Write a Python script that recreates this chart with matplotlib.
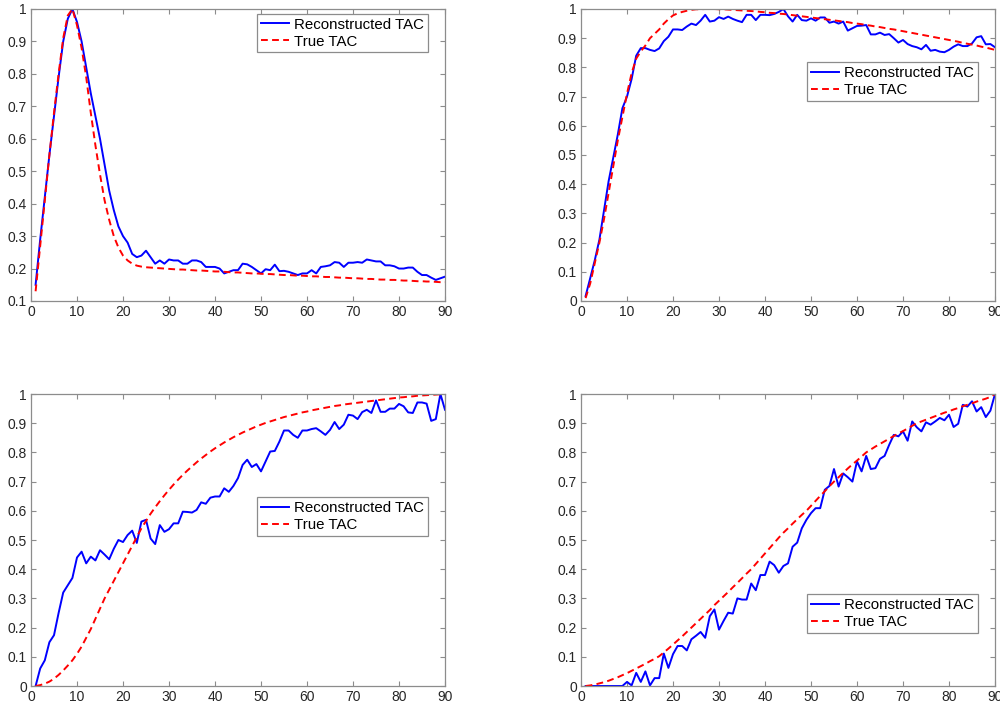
import matplotlib
matplotlib.use("Agg")
import matplotlib.pyplot as plt
from matplotlib.ticker import FormatStrFormatter, MultipleLocator

plt.rcParams['font.family'] = ['Liberation Sans', 'DejaVu Sans']

frames = list(range(1, 91))

tl_recon = [0.15, 0.29, 0.42, 0.55, 0.67, 0.79, 0.90, 0.97, 1.00, 0.96,
            0.90, 0.82, 0.74, 0.67, 0.60, 0.52, 0.44, 0.38, 0.33, 0.30,
            0.28, 0.245, 0.235, 0.24, 0.255, 0.235, 0.215, 0.225, 0.215, 0.228,
            0.225, 0.225, 0.215, 0.215, 0.225, 0.225, 0.22, 0.205, 0.205, 0.205,
            0.20, 0.185, 0.19, 0.195, 0.195, 0.215, 0.213, 0.205, 0.195, 0.185,
            0.198, 0.195, 0.212, 0.192, 0.193, 0.19, 0.185, 0.18, 0.185, 0.185,
            0.195, 0.185, 0.205, 0.207, 0.21, 0.22, 0.218, 0.205, 0.218, 0.218,
            0.22, 0.218, 0.228, 0.225, 0.222, 0.222, 0.21, 0.21, 0.207, 0.20,
            0.20, 0.203, 0.203, 0.19, 0.18, 0.18, 0.172, 0.165, 0.17, 0.175]
tl_true = [0.13, 0.27, 0.41, 0.55, 0.68, 0.80, 0.91, 0.98, 1.00, 0.95,
           0.88, 0.79, 0.68, 0.58, 0.49, 0.41, 0.35, 0.30, 0.265, 0.24,
           0.225, 0.215, 0.209, 0.206, 0.204, 0.203, 0.202, 0.201, 0.20, 0.199,
           0.198, 0.197, 0.197, 0.196, 0.195, 0.194, 0.194, 0.193, 0.192, 0.191,
           0.191, 0.19, 0.189, 0.188, 0.188, 0.187, 0.186, 0.185, 0.185, 0.184,
           0.183, 0.183, 0.182, 0.181, 0.18, 0.18, 0.179, 0.178, 0.178, 0.177,
           0.176, 0.176, 0.175, 0.174, 0.174, 0.173, 0.172, 0.172, 0.171, 0.17,
           0.17, 0.169, 0.168, 0.168, 0.167, 0.166, 0.166, 0.165, 0.165, 0.164,
           0.163, 0.163, 0.162, 0.161, 0.161, 0.16, 0.16, 0.159, 0.158, 0.158]

tr_recon = [0.017, 0.078, 0.14, 0.21, 0.31, 0.41, 0.49, 0.57, 0.66, 0.70,
            0.76, 0.84, 0.866, 0.866, 0.86, 0.856, 0.865, 0.89, 0.905, 0.93,
            0.93, 0.928, 0.94, 0.95, 0.945, 0.96, 0.98, 0.957, 0.96, 0.972,
            0.966, 0.974, 0.966, 0.96, 0.955, 0.98, 0.98, 0.962, 0.98, 0.98,
            0.979, 0.983, 0.99, 1.00, 0.975, 0.957, 0.98, 0.962, 0.96, 0.968,
            0.96, 0.971, 0.971, 0.953, 0.957, 0.95, 0.957, 0.926, 0.934, 0.942,
            0.943, 0.945, 0.913, 0.913, 0.919, 0.911, 0.914, 0.90, 0.885, 0.894,
            0.88, 0.873, 0.869, 0.862, 0.877, 0.857, 0.86, 0.854, 0.852, 0.86,
            0.871, 0.879, 0.873, 0.873, 0.882, 0.903, 0.907, 0.879, 0.88, 0.869]
tr_true = [0.01, 0.06, 0.13, 0.20, 0.28, 0.37, 0.46, 0.55, 0.63, 0.71,
           0.78, 0.83, 0.855, 0.875, 0.90, 0.915, 0.93, 0.95, 0.965, 0.978,
           0.985, 0.99, 0.994, 0.997, 0.999, 0.999, 1.0, 1.0, 1.0, 0.999,
           0.999, 0.998, 0.997, 0.996, 0.995, 0.994, 0.993, 0.992, 0.99, 0.989,
           0.987, 0.986, 0.984, 0.983, 0.981, 0.979, 0.977, 0.975, 0.973, 0.971,
           0.969, 0.967, 0.965, 0.963, 0.961, 0.959, 0.957, 0.955, 0.952, 0.95,
           0.948, 0.945, 0.943, 0.94, 0.938, 0.935, 0.932, 0.93, 0.927, 0.924,
           0.921, 0.918, 0.915, 0.912, 0.909, 0.906, 0.903, 0.90, 0.897, 0.894,
           0.891, 0.888, 0.884, 0.881, 0.878, 0.875, 0.871, 0.868, 0.864, 0.86]

bl_recon = [0.0, 0.06, 0.088, 0.15, 0.174, 0.25, 0.32, 0.345, 0.37, 0.44,
            0.46, 0.42, 0.443, 0.43, 0.465, 0.45, 0.434, 0.47, 0.50, 0.493,
            0.517, 0.532, 0.49, 0.563, 0.569, 0.505, 0.486, 0.551, 0.528, 0.537,
            0.557, 0.557, 0.597, 0.596, 0.594, 0.603, 0.629, 0.624, 0.645, 0.649,
            0.649, 0.677, 0.665, 0.685, 0.712, 0.757, 0.775, 0.75, 0.76, 0.735,
            0.769, 0.803, 0.805, 0.837, 0.875, 0.875, 0.86, 0.85, 0.875, 0.875,
            0.88, 0.883, 0.872, 0.86, 0.877, 0.904, 0.88, 0.895, 0.929, 0.926,
            0.914, 0.938, 0.946, 0.935, 0.978, 0.939, 0.939, 0.95, 0.95, 0.966,
            0.958, 0.937, 0.935, 0.971, 0.971, 0.967, 0.908, 0.914, 1.0, 0.946]
bl_true = [0.0, 0.003, 0.008, 0.015, 0.025, 0.038, 0.053, 0.07, 0.088, 0.11,
           0.135, 0.165, 0.195, 0.23, 0.265, 0.30, 0.33, 0.36, 0.39, 0.42,
           0.45, 0.48, 0.51, 0.54, 0.565, 0.59, 0.612, 0.633, 0.653, 0.672,
           0.69, 0.707, 0.723, 0.738, 0.752, 0.766, 0.779, 0.791, 0.803, 0.814,
           0.824, 0.834, 0.843, 0.852, 0.86, 0.868, 0.875, 0.882, 0.889, 0.895,
           0.901, 0.906, 0.911, 0.916, 0.921, 0.925, 0.929, 0.933, 0.937, 0.94,
           0.944, 0.947, 0.95, 0.953, 0.956, 0.959, 0.961, 0.964, 0.966, 0.968,
           0.97, 0.972, 0.974, 0.976, 0.978, 0.98, 0.982, 0.984, 0.986, 0.988,
           0.989, 0.991, 0.992, 0.994, 0.995, 0.996, 0.997, 0.998, 0.999, 1.0]

br_recon = [0.0, 0.0, 0.0, 0.0, 0.0, 0.0, 0.0, 0.0, 0.0, 0.014,
            0.002, 0.045, 0.014, 0.05, 0.002, 0.027, 0.027, 0.111, 0.062, 0.109,
            0.137, 0.137, 0.122, 0.16, 0.172, 0.185, 0.165, 0.239, 0.262, 0.193,
            0.223, 0.251, 0.248, 0.30, 0.296, 0.296, 0.351, 0.328, 0.38, 0.38,
            0.426, 0.414, 0.388, 0.411, 0.42, 0.477, 0.491, 0.54, 0.569, 0.592,
            0.609, 0.609, 0.672, 0.685, 0.743, 0.683, 0.728, 0.715, 0.70, 0.769,
            0.735, 0.788, 0.743, 0.746, 0.778, 0.788, 0.826, 0.86, 0.855, 0.872,
            0.84, 0.906, 0.886, 0.872, 0.903, 0.895, 0.906, 0.918, 0.91, 0.929,
            0.887, 0.898, 0.963, 0.957, 0.975, 0.94, 0.955, 0.921, 0.943, 1.0]
br_true = [0.0, 0.002, 0.005, 0.009, 0.013, 0.018, 0.024, 0.03, 0.037, 0.044,
           0.052, 0.06, 0.068, 0.076, 0.085, 0.093, 0.102, 0.115, 0.128, 0.142,
           0.156, 0.17, 0.185, 0.20, 0.215, 0.23, 0.245, 0.26, 0.277, 0.292,
           0.307, 0.322, 0.338, 0.353, 0.369, 0.385, 0.40, 0.418, 0.436, 0.454,
           0.472, 0.49, 0.508, 0.525, 0.54, 0.556, 0.571, 0.586, 0.60, 0.617,
           0.634, 0.651, 0.667, 0.684, 0.70, 0.715, 0.73, 0.745, 0.759, 0.772,
           0.786, 0.80, 0.81, 0.82, 0.829, 0.838, 0.847, 0.856, 0.865, 0.873,
           0.882, 0.891, 0.90, 0.906, 0.912, 0.918, 0.924, 0.93, 0.936, 0.941,
           0.947, 0.952, 0.958, 0.963, 0.968, 0.974, 0.979, 0.984, 0.99, 1.0]

labels = ["Reconstructed TAC", "True TAC"]

W, H = 1000, 707
fig = plt.figure(figsize=(W / 100, H / 100), dpi=100)

panels = [
    # (recon, true, left px, top px, ymin, legend top in axes fraction)
    (tl_recon, tl_true, 31, 9, 0.1, 0.983),
    (tr_recon, tr_true, 581, 9, 0.0, 0.818),
    (bl_recon, bl_true, 31, 394, 0.0, 0.647),
    (br_recon, br_true, 581, 394, 0.0, 0.315),
]
aw, ah = 414, 292
edge = '#8c8c8c'
txt = '#262626'

for recon, true, lpx, tpx, ymin, legtop in panels:
    ax = fig.add_axes([lpx / W, 1 - (tpx + ah) / H, aw / W, ah / H])
    ax.plot(frames, recon, color=(0.0, 0.0, 1.0), lw=1.4, label=labels[0])
    ax.plot(frames, true, color=(1.0, 0.0, 0.0), lw=1.4, ls=(0, (3.5, 2.2)), label=labels[1])
    ax.set_xlim(0, 90)
    ax.set_ylim(ymin, 1)
    ax.xaxis.set_major_locator(MultipleLocator(10))
    ax.yaxis.set_major_locator(MultipleLocator(0.1))
    ax.yaxis.set_major_formatter(FormatStrFormatter('%g'))
    ax.xaxis.set_major_formatter(FormatStrFormatter('%g'))
    ax.tick_params(direction='in', length=3.5, width=0.8, color=edge,
                   labelsize=10, labelcolor=txt, top=True, right=True, pad=3)
    for s in ax.spines.values():
        s.set_color(edge)
        s.set_linewidth(0.9)
    leg = ax.legend(loc='upper right', bbox_to_anchor=(0.959, legtop),
                    borderaxespad=0, fontsize=10.8, fancybox=False,
                    framealpha=1, edgecolor=edge, borderpad=0.25,
                    labelspacing=0.2, handlelength=1.9, handletextpad=0.35)
    leg.get_frame().set_linewidth(0.9)

fig.savefig("out.png", dpi=100)
